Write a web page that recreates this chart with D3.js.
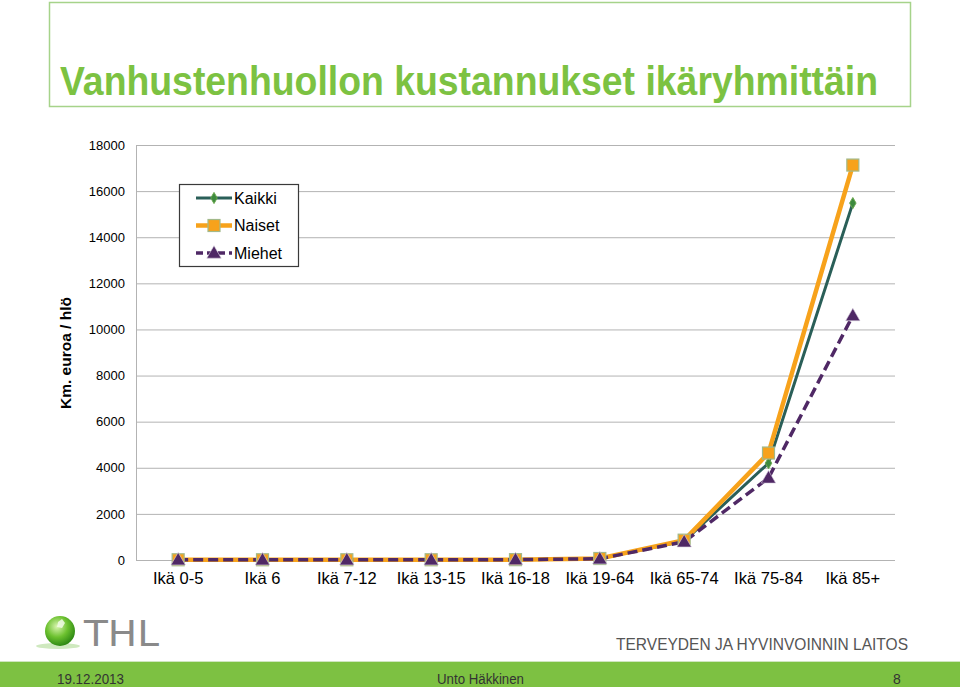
<!DOCTYPE html>
<html><head><meta charset="utf-8">
<script src="https://cdn.jsdelivr.net/npm/d3@7"></script>
<style>body{margin:0;background:#fff;}svg{display:block;font-family:Arial,"Liberation Sans",sans-serif;}</style>
</head><body>
<svg id="c" width="960" height="687"></svg>
<script>
const categories = ["Ikä 0-5","Ikä 6","Ikä 7-12","Ikä 13-15","Ikä 16-18","Ikä 19-64","Ikä 65-74","Ikä 75-84","Ikä 85+"];
const kaikki = [10, 10, 10, 10, 15, 60, 820, 4200, 15480];
const naiset = [10, 10, 10, 10, 15, 65, 860, 4640, 17130];
const miehet = [10, 10, 10, 10, 15, 55, 790, 3560, 10600];
const yTicks = [0,2000,4000,6000,8000,10000,12000,14000,16000,18000];
const seriesNames = ["Kaikki","Naiset","Miehet"];

const svg = d3.select("#c");
// title box
svg.append("rect").attr("x",49.5).attr("y",2.5).attr("width",861).attr("height",104)
  .attr("fill","#fff").attr("stroke","#a6d38a").attr("stroke-width",1.5);
svg.append("text").attr("x",60).attr("y",95).attr("fill","#7cc242")
  .attr("font-size",40).attr("font-weight","bold").attr("textLength",818).attr("lengthAdjust","spacingAndGlyphs")
  .text("Vanhustenhuollon kustannukset ikäryhmittäin");

const x = d3.scaleBand().domain(categories).range([136,895]);
const y = d3.scaleLinear().domain([0,18000]).range([560,145]);

// gridlines
svg.append("g").selectAll("line").data(yTicks).join("line")
  .attr("x1",136).attr("x2",895).attr("y1",d=>y(d)+0.5).attr("y2",d=>y(d)+0.5)
  .attr("stroke","#b3b3b3").attr("stroke-width",1);
svg.append("line").attr("x1",136.5).attr("x2",136.5).attr("y1",145).attr("y2",560).attr("stroke","#b3b3b3");

// y axis
const ya = svg.append("g").attr("transform","translate(136,0)")
  .call(d3.axisLeft(y).tickValues(yTicks).tickFormat(d3.format("d")).tickSize(0).tickPadding(11));
ya.select(".domain").remove();
ya.selectAll("text").attr("font-size",13).attr("fill","#000").attr("font-family","Arial,'Liberation Sans',sans-serif");

// x axis
const xa = svg.append("g").attr("transform","translate(0,560)")
  .call(d3.axisBottom(x).tickSize(0).tickPadding(12));
xa.select(".domain").remove();
xa.selectAll("text").attr("font-size",16.5).attr("fill","#000").attr("font-family","Arial,'Liberation Sans',sans-serif");

// y label
svg.append("text").attr("transform","translate(71,353) rotate(-90)").attr("text-anchor","middle")
  .attr("font-size",15.5).attr("font-weight","bold").text("Km. euroa / hlö");

const cx = d => x(d) + x.bandwidth()/2;
const line = d3.line().x((d,i)=>cx(categories[i])).y(d=>y(d));

const styles = {
  Kaikki:{data:kaikki,color:"#2a5f58",w:3,dash:null},
  Naiset:{data:naiset,color:"#f7a21b",w:4.5,dash:null},
  Miehet:{data:miehet,color:"#4f2865",w:3.5,dash:"10,5"}
};

function marker(g, name, px, py){
  if(name==="Kaikki"){
    g.append("path").attr("d",d3.symbol(d3.symbolDiamond,36)()).attr("transform",`translate(${px},${py})`)
      .attr("fill","#3d8a3f").attr("stroke","#6aa84f").attr("stroke-width",1);
  } else if(name==="Naiset"){
    g.append("rect").attr("x",px-6).attr("y",py-6).attr("width",12).attr("height",12)
      .attr("fill","#f7a21b").attr("stroke","#a2b98a").attr("stroke-width",1.2);
  } else {
    g.append("path").attr("d",d3.symbol(d3.symbolTriangle,90)()).attr("transform",`translate(${px},${py+1})`)
      .attr("fill","#4f2865").attr("stroke","#d8d0df").attr("stroke-width",0.6);
  }
}

const order = ["Kaikki","Naiset","Miehet"];
order.forEach(n=>{
  const s = styles[n];
  svg.append("path").attr("d",line(s.data)).attr("fill","none").attr("stroke",s.color)
    .attr("stroke-width",s.w).attr("stroke-dasharray",s.dash);
});
order.forEach(n=>{
  const g = svg.append("g");
  styles[n].data.forEach((v,i)=>marker(g,n,cx(categories[i]),y(v)));
});

// legend
const lg = svg.append("g");
lg.append("rect").attr("x",179.5).attr("y",184.5).attr("width",119).attr("height",82)
  .attr("fill","#fff").attr("stroke","#3a3a3a").attr("stroke-width",1.2);
seriesNames.forEach((n,i)=>{
  const ly = 198 + i*27.5;
  const s = styles[n];
  lg.append("line").attr("x1",196).attr("x2",232).attr("y1",ly).attr("y2",ly)
    .attr("stroke",s.color).attr("stroke-width",s.w).attr("stroke-dasharray",s.dash?"7,4":null);
  marker(lg,n,214,ly);
  lg.append("text").attr("x",234).attr("y",ly+5.5).attr("font-size",16).text(n);
});

// footer
const lgG = svg.append("g");
const grad = svg.append("defs").append("radialGradient").attr("id","ball").attr("cx","40%").attr("cy","35%").attr("r","65%");
grad.append("stop").attr("offset","0%").attr("stop-color","#d9f5b0");
grad.append("stop").attr("offset","55%").attr("stop-color","#6cc12f");
grad.append("stop").attr("offset","100%").attr("stop-color","#2f8a14");
lgG.append("ellipse").attr("cx",58).attr("cy",646).attr("rx",22).attr("ry",3).attr("fill","#cfe9bf");
lgG.append("circle").attr("cx",60).attr("cy",631).attr("r",15).attr("fill","url(#ball)");
lgG.append("path").attr("d","M58,622 l4,-3 l3,4 l-3,5 l-5,-1 z").attr("fill","#f2fbe8").attr("opacity",0.85);
lgG.append("text").attr("x",84).attr("y",646).attr("font-size",36).attr("fill","#8a8a8a")
  .attr("font-family","'DejaVu Sans',sans-serif").attr("textLength",75).attr("lengthAdjust","spacingAndGlyphs").text("THL");
svg.append("text").attr("x",616).attr("y",650).attr("font-size",17).attr("fill","#555")
  .attr("textLength",292).attr("lengthAdjust","spacingAndGlyphs").text("TERVEYDEN JA HYVINVOINNIN LAITOS");
svg.append("line").attr("x1",0).attr("x2",960).attr("y1",661.5).attr("y2",661.5).attr("stroke","#cfe6bf");
svg.append("rect").attr("x",0).attr("y",662).attr("width",960).attr("height",25).attr("fill","#7dc142");
svg.append("text").attr("x",57).attr("y",684).attr("font-size",14).attr("fill","#333").attr("textLength",67).attr("lengthAdjust","spacingAndGlyphs").text("19.12.2013");
svg.append("text").attr("x",437).attr("y",684).attr("font-size",14).attr("fill","#333").attr("textLength",87).attr("lengthAdjust","spacingAndGlyphs").text("Unto Häkkinen");
svg.append("text").attr("x",893).attr("y",684).attr("font-size",14).attr("fill","#333").text("8");
</script>
</body></html>
